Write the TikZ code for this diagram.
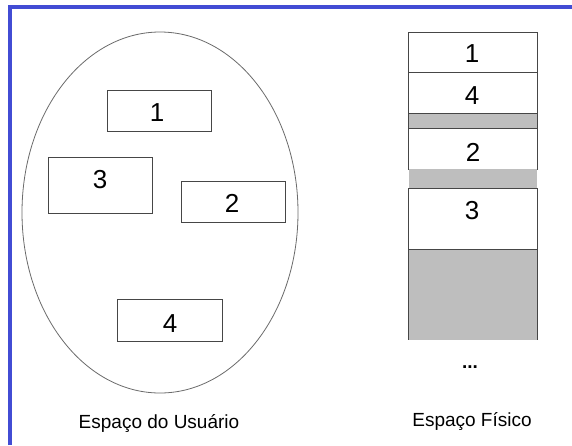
\documentclass[tikz,border=0pt]{standalone}
\usepackage{fontspec}
\setmainfont{Liberation Sans}
\usetikzlibrary{positioning}
\definecolor{moldura}{RGB}{66,76,212}
\definecolor{cinza}{RGB}{190,190,190}
\definecolor{traco}{RGB}{70,70,70}

\begin{document}
\begin{tikzpicture}[x=1pt, y=-1pt,
  bloco/.style={draw=traco, line width=0.9pt, fill=white, inner sep=0pt,
    minimum width=#1},
  bloco/.default=104pt,
  numero/.style={anchor=base, inner sep=0pt, font=\fontsize{26}{30}\selectfont},
  legenda/.style={anchor=base, inner sep=0pt, font=\fontsize{19}{22}\selectfont}]
  \useasboundingbox (0,0) rectangle (572,445);
  \fill[white] (0,0) rectangle (572,445);
  % moldura azul
  \draw[moldura, line width=4pt] (10,445) -- (10,7) -- (572,7);

  % espaco do usuario
  \draw[traco!80, line width=0.8pt] (160,212.5) ellipse [x radius=138, y radius=180.5];
  \node[bloco, minimum height=41pt] (u1) at (159,110.5) {};
  \node[bloco, minimum height=56pt] (u3) at (100,185) {};
  \node[bloco, minimum height=41pt] (u2) at (233,201.5) {};
  \node[bloco=105pt, minimum height=42pt] (u4) at (169.5,320) {};
  \node[numero] (n1) at (157,121) {1};
  \node[numero] (n3) at (100,188) {3};
  \node[numero] (n2) at (232,212) {2};
  \node[numero] (n4) at (170,332) {4};
  \node[legenda] (usuario) at (159,428) {Espaço do Usuário};

  % espaco fisico
  \fill[cinza] (408,249) rectangle (537,340);
  \draw[traco, line width=0.9pt] (408,249) -- (408,340) (537,249) -- (537,340);
  \node[bloco=129pt, minimum height=40pt] (f1) at (472.5,52) {};
  \node[bloco=129pt, minimum height=41pt] (f4) at (472.5,92.5) {};
  \draw[traco, line width=0.9pt, fill=cinza] (408,113) rectangle (537,128);
  \node[bloco=129pt, minimum height=41pt] (f2) at (472.5,148.5) {};
  \node[bloco=129pt, minimum height=61pt] (f3) at (472.5,218.5) {};
  \fill[cinza] (408.5,168.6) rectangle (536.5,187.6);
  \node[numero] (m1) at (472,62) {1};
  \node[numero] (m4) at (472,104) {4};
  \node[numero] (m2) at (473,161) {2};
  \node[numero] (m3) at (472,219) {3};
  \node[legenda, font=\fontsize{19}{22}\selectfont\bfseries] (resto) at (470,368) {...};
  \node[legenda] (fisico) at (472,426) {Espaço Físico};
\end{tikzpicture}
\end{document}
